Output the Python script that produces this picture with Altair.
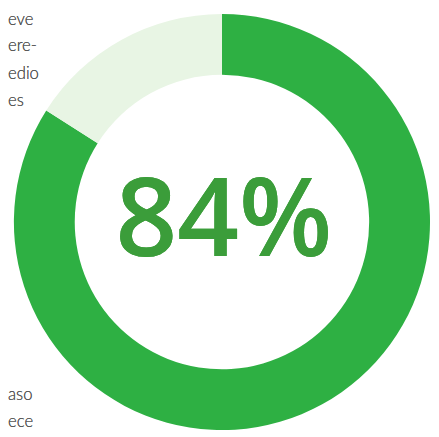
import altair as alt
import pandas as pd

# Data
segments = ["Sí", "No"]
values = [84, 16]
order = [1, 2]
center_label = "84%"
top_fragments = ["eve", "ere-", "edio", "es"]
bottom_fragments = ["aso", "ece"]

df = pd.DataFrame({"segment": segments, "value": values, "order": order})

W, H = 431, 429
CX, CY = 218, 214

ring = alt.Chart(df).mark_arc(innerRadius=150, outerRadius=212).encode(
    theta=alt.Theta("value:Q", stack=True),
    order=alt.Order("order:Q"),
    color=alt.Color("segment:N",
                    scale=alt.Scale(domain=segments, range=["#2eb043", "#e8f5e4"]),
                    legend=None),
    x=alt.value(CX),
    y=alt.value(CY),
)

label = alt.Chart(df).mark_text(
    font="Open Sans", fontSize=110, fontWeight=600, color="#3b9d3a",
    baseline="middle", align="center",
).encode(x=alt.value(CX + 2), y=alt.value(CY + 2), text=alt.value(center_label))

top_base = [13, 40, 68, 96]
bottom_base = [395, 423]

frag_layers = []
for t, yb in zip(top_fragments + bottom_fragments, top_base + bottom_base):
    frag_layers.append(
        alt.Chart(df).mark_text(
            font="Lato", fontSize=17, fontWeight=300, color="#555555",
            align="left", baseline="alphabetic",
        ).encode(x=alt.value(0), y=alt.value(yb), text=alt.value(t))
    )

chart = alt.layer(ring, label, *frag_layers).properties(
    width=W, height=H, padding=0, autosize=alt.AutoSizeParams(type="none"),
).configure_view(stroke=None)

chart.save("out.html", embed_options={"renderer": "svg", "actions": False})
